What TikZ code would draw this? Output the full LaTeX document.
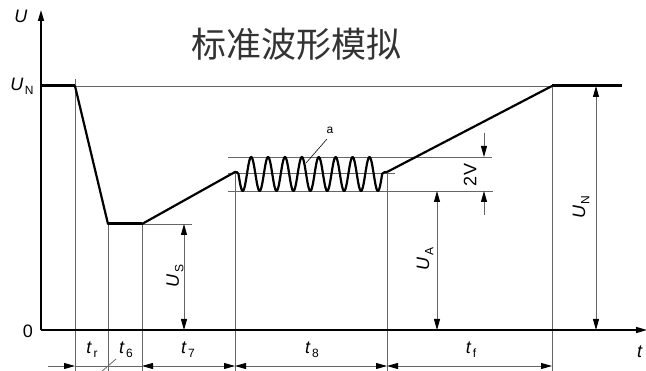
\documentclass[tikz,border=0pt]{standalone}
\usepackage{fontspec}
\setmainfont{Liberation Sans}
\newfontfamily\cjk{Noto Sans CJK SC}
\usetikzlibrary{arrows.meta}
\newcommand{\lbl}[2]{\textit{#1}\kern1.5pt\raisebox{-0.45ex}{\fontsize{12}{12}\selectfont #2}}
\begin{document}
\begin{tikzpicture}[x=1pt,y=-1pt,
  wave/.style={line width=2.2pt, line join=round, line cap=round},
  flat/.style={line width=3pt},
  axis/.style={line width=1.6pt, -{Triangle[length=11pt,width=6pt]}},
  ext/.style={draw=black!60, line width=0.8pt},
  dim/.style={draw=black!60, line width=0.8pt},
  tipe/.style={-{Triangle[length=11pt,width=6pt,color=black]}},
  tipb/.style={{Triangle[length=11pt,width=6pt,color=black]}-{Triangle[length=11pt,width=6pt,color=black]}},
  lab/.style={font=\fontsize{18}{18}\selectfont, inner sep=0pt},
]
\useasboundingbox (0,0) rectangle (646,371);
% key points
\coordinate (O) at (41,330);
\coordinate (Ytop) at (41,10);
\coordinate (Xend) at (647,330);
\coordinate (P0) at (41,86);
\coordinate (P1) at (75,86);
\coordinate (P2) at (108,224);
\coordinate (P3) at (142,224);
\coordinate (P4) at (235,172);
\coordinate (P5) at (387,172);
\coordinate (P6) at (552,86);
\coordinate (P7) at (622,86);

% extension lines
\draw[ext] (75,79) -- (75,371);
\draw[ext] (P1) -- (P6);
\draw[ext] (P2) -- (108,371);
\draw[ext] (P3) -- (142,371);
\draw[ext] (142,224) -- (192,224);
\draw[ext] (235,174) -- (235,371);
\draw[ext] (387,172) -- (387,371);
\draw[ext] (P6) -- (552,371);
\draw[ext] (228,157) -- (492,157);
\draw[ext] (228,173) -- (395,173);
\draw[ext] (228,191) -- (493,191);

% axes
\draw[axis] (O) -- (Ytop);
\draw[axis] (O) -- (Xend);

% waveform
\draw[flat] (P0) -- (P1);
\draw[wave] (P1) -- (P2);
\draw[flat] (P2) -- (P3);
\draw[wave] (P3) -- (P4)
  .. controls (237,171) and (237.5,173) .. (238.5,174)
  -- plot[domain=238.5:382.2, samples=220, smooth] (\x,{174+17*sin((\x-238.5)/16.9*360)})
  .. controls (384,172) and (385,172) .. (P5) -- (P6);
\draw[flat] (P6) -- (P7);

% vertical dimensions
\draw[dim,tipb] (184,224) -- (184,330);
\draw[dim,tipb] (437,191) -- (437,330);
\draw[dim,tipb] (596,86) -- (596,330);
\draw[dim,tipe] (484,133) -- (484,157);
\draw[dim,tipe] (484,215) -- (484,191);

% bottom time dimensions
\draw[dim,tipe] (48,366) -- (75,366);
\draw[dim] (75,366) -- (142,366);
\draw[dim] (100,373) -- (116,359);
\draw[dim,tipb] (142,366) -- (235,366);
\draw[dim,tipb] (235,366) -- (387,366);
\draw[dim,tipb] (387,366) -- (552,366);

% leader for a
\draw[line width=0.6pt] (327,139) -- (306,163);
\node[font=\fontsize{12}{12}\selectfont, inner sep=0pt] (la) at (330,130) {a};

% labels
\node[lab] (lU) at (21,16) {\textit{U}};
\node[lab] (lt) at (640,352) {\textit{t}};
\node[lab] (l0) at (28,331) {0};
\node[lab] (lUN) at (22,86) {\lbl{U}{N}};
\node[lab, rotate=90] (lUS) at (175,276) {\lbl{U}{S}};
\node[lab, rotate=90] (lUA) at (425,259) {\lbl{U}{A}};
\node[lab, rotate=90] (lUN2) at (581,207) {\lbl{U}{N}};
\node[lab, rotate=90] (l2V) at (470,175) {2V};
\node[lab] (ltr) at (92,350) {\lbl{t}{r}};
\node[lab] (lt6) at (126,350) {\lbl{t}{6}};
\node[lab] (lt7) at (188,350) {\lbl{t}{7}};
\node[lab] (lt8) at (312,350) {\lbl{t}{8}};
\node[lab] (ltf) at (471,350) {\lbl{t}{f}};

% title
\node[font=\cjk\fontsize{35}{35}\selectfont, text=black!80, inner sep=0pt] (title) at (296,44) {标准波形模拟};
\end{tikzpicture}
\end{document}
